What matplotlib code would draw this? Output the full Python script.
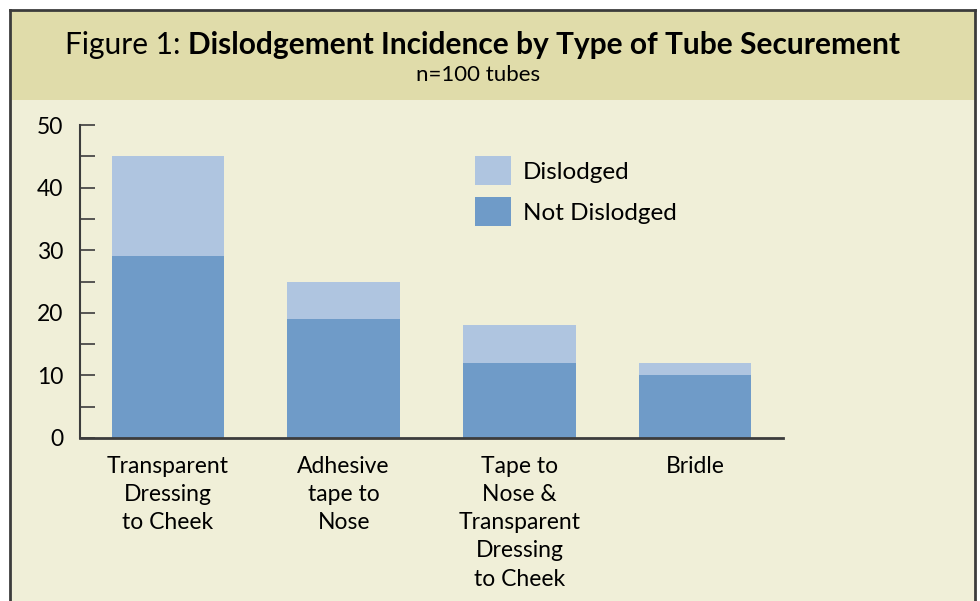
import numpy as np
import matplotlib
matplotlib.use('Agg')
import matplotlib.pyplot as plt
from matplotlib.patches import Rectangle, Patch
from matplotlib.lines import Line2D

categories = ['Transparent\nDressing\nto Cheek', 'Adhesive\ntape to\nNose',
              'Tape to\nNose &\nTransparent\nDressing\nto Cheek', 'Bridle']
not_dislodged = [29, 19, 12, 10]
dislodged = [16, 6, 6, 2]
series_names = ['Dislodged', 'Not Dislodged']

title_plain = 'Figure 1: '
title_bold = 'Dislodgement Incidence by Type of Tube Securement'
subtitle = 'n=100 tubes'

light_blue = '#afc5e0'
dark_blue = '#6f9bc8'
band_col = '#e0dcaa'
body_col = '#f0efd8'
edge_col = '#3c3c3c'

plt.rcParams['font.family'] = ['Lato', 'DejaVu Sans']

W, H = 980, 601
fig = plt.figure(figsize=(W / 100, H / 100), dpi=100)
fig.patch.set_facecolor('white')


def fx(px):
    return px / W


def fy(py):
    return 1 - py / H


# panel background, title band and frame
fig.patches.append(Rectangle((fx(10), 0), fx(965), fy(10), transform=fig.transFigure,
                             facecolor=body_col, edgecolor='none', zorder=-10))
fig.patches.append(Rectangle((fx(10), fy(100)), fx(965), fy(10) - fy(100),
                             transform=fig.transFigure, facecolor=band_col,
                             edgecolor='none', zorder=-9))
for xs, ys in [([10, 10], [601, 10]), ([10, 975], [10, 10]), ([975, 975], [10, 601])]:
    fig.lines.append(Line2D([fx(x) for x in xs], [fy(y) for y in ys],
                            transform=fig.transFigure, color=edge_col, lw=2, zorder=-8))

ax = fig.add_axes([fx(80), fy(438), fx(783) - fx(80), fy(125) - fy(438)])
ax.set_facecolor('none')

x = np.arange(len(categories))
ax.bar(x, not_dislodged, width=0.64, color=dark_blue, label=series_names[1], zorder=2)
ax.bar(x, dislodged, width=0.64, bottom=not_dislodged, color=light_blue,
       label=series_names[0], zorder=2)

ax.set_xlim(-0.5, 3.5)
ax.set_ylim(0, 50)
for s in ['top', 'right']:
    ax.spines[s].set_visible(False)
ax.spines['left'].set_color(edge_col)
ax.spines['bottom'].set_color(edge_col)
ax.spines['left'].set_linewidth(1.5)
ax.spines['bottom'].set_linewidth(2)
ax.spines['bottom'].set_zorder(3)

ax.set_yticks(np.arange(0, 51, 10))
ax.set_yticks(np.arange(5, 50, 10), minor=True)
ax.tick_params(axis='y', which='both', direction='in', length=11, width=1.2,
               color=edge_col, labelsize=16.5, pad=12)
ax.set_xticks(x)
ax.set_xticklabels(categories, fontsize=16.5, linespacing=1.42)
ax.tick_params(axis='x', length=0, pad=13)

handles = [Patch(facecolor=light_blue), Patch(facecolor=dark_blue)]
ax.legend(handles, series_names, loc='upper left', bbox_to_anchor=(fx(473), fy(154)),
          bbox_transform=fig.transFigure, frameon=False, fontsize=17.5,
          handlelength=1.45, handleheight=1.45, labelspacing=0.5, handletextpad=0.5,
          borderaxespad=0, borderpad=0.1)

# title in two weights
t1 = fig.text(fx(65), fy(45), title_plain, fontsize=21.5, va='center', ha='left')
fig.canvas.draw()
bb = t1.get_window_extent()
fig.text(bb.x1 / W, fy(45), title_bold, fontsize=21.5, fontweight='bold',
         va='center', ha='left')
fig.text(fx(478), fy(75), subtitle, fontsize=16, va='center', ha='center')

fig.savefig('out.png', dpi=100, facecolor=fig.get_facecolor())
